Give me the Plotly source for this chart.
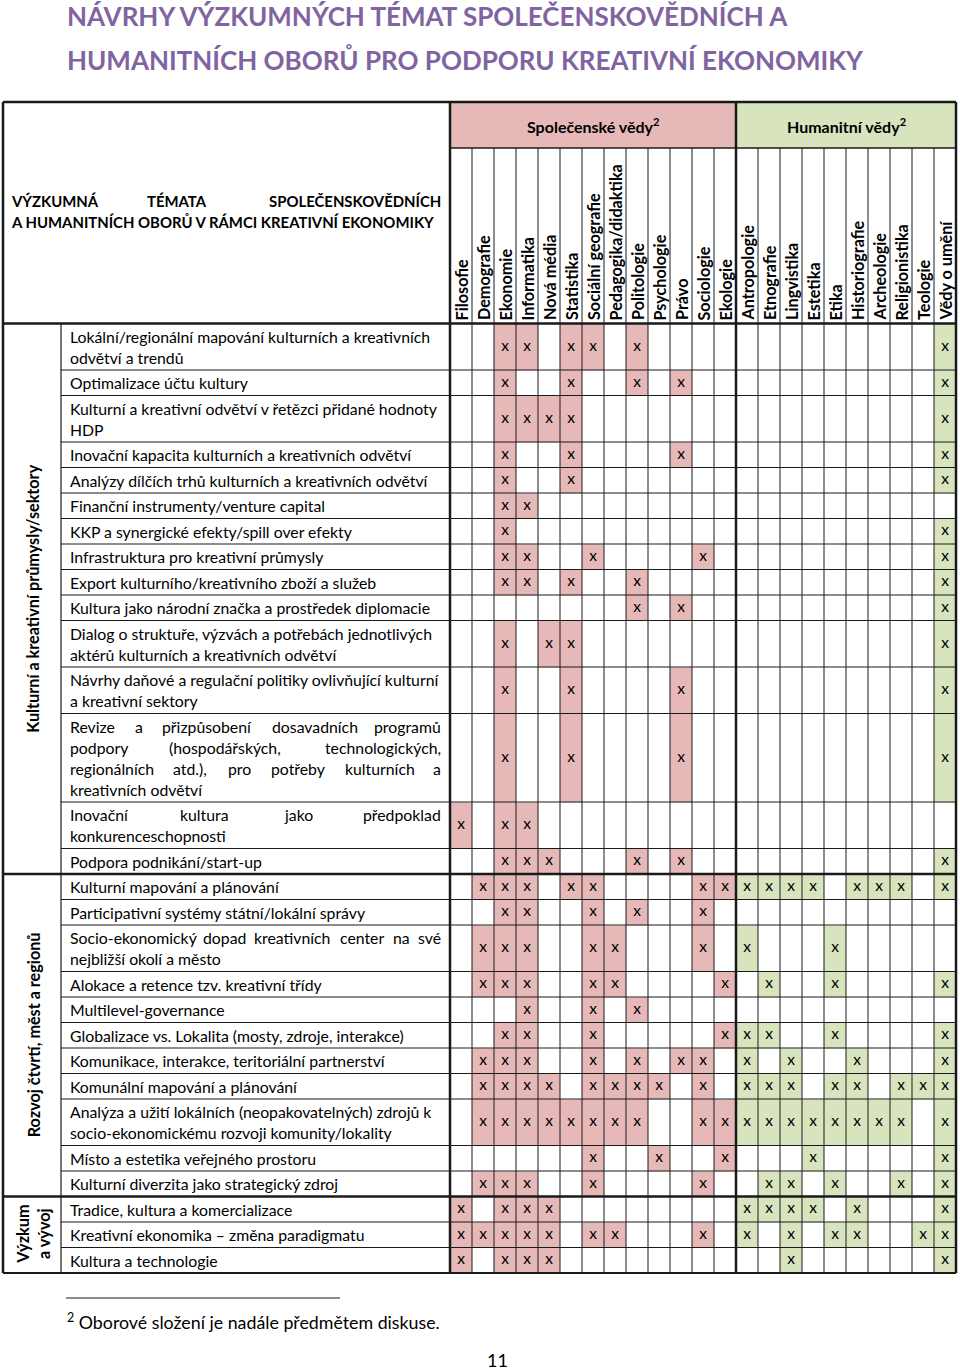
import plotly.graph_objects as go

# --- Data ---
obory_spol = ["Filosofie", "Demografie", "Ekonomie", "Informatika", "Nová média", "Statistika",
              "Sociální geografie", "Pedagogika/didaktika", "Politologie", "Psychologie", "Právo",
              "Sociologie", "Ekologie"]
obory_hum = ["Antropologie", "Etnografie", "Lingvistika", "Estetika", "Etika", "Historiografie",
             "Archeologie", "Religionistika", "Teologie", "Vědy o umění"]
obory = obory_spol + obory_hum

oblasti = ["Kulturní a kreativní průmysly/sektory", "Rozvoj čtvrtí, měst a regionů", "Výzkum<br>a vývoj"]
pocet_temat_v_oblasti = [15, 11, 3]

temata = [
    ["Lokální/regionální mapování kulturních a kreativních", "odvětví a trendů"],
    ["Optimalizace účtu kultury"],
    ["Kulturní a kreativní odvětví v řetězci přidané hodnoty", "HDP"],
    ["Inovační kapacita kulturních a kreativních odvětví"],
    ["Analýzy dílčích trhů kulturních a kreativních odvětví"],
    ["Finanční instrumenty/venture capital"],
    ["KKP a synergické efekty/spill over efekty"],
    ["Infrastruktura pro kreativní průmysly"],
    ["Export kulturního/kreativního zboží a služeb"],
    ["Kultura jako národní značka a prostředek diplomacie"],
    ["Dialog o struktuře, výzvách a potřebách jednotlivých", "aktérů kulturních a kreativních odvětví"],
    ["Návrhy daňové a regulační politiky ovlivňující kulturní", "a kreativní sektory"],
    ["Revize a přizpůsobení dosavadních programů", "podpory (hospodářských, technologických,",
     "regionálních atd.), pro potřeby kulturních a", "kreativních odvětví"],
    ["Inovační kultura jako předpoklad", "konkurenceschopnosti"],
    ["Podpora podnikání/start-up"],
    ["Kulturní mapování a plánování"],
    ["Participativní systémy státní/lokální správy"],
    ["Socio-ekonomický dopad kreativních center na své", "nejbližší okolí a město"],
    ["Alokace a retence tzv. kreativní třídy"],
    ["Multilevel-governance"],
    ["Globalizace vs. Lokalita (mosty, zdroje, interakce)"],
    ["Komunikace, interakce, teritoriální partnerství"],
    ["Komunální mapování a plánování"],
    ["Analýza a užití lokálních (neopakovatelných) zdrojů k", "socio-ekonomickému rozvoji komunity/lokality"],
    ["Místo a estetika veřejného prostoru"],
    ["Kulturní diverzita jako strategický zdroj"],
    ["Tradice, kultura a komercializace"],
    ["Kreativní ekonomika – změna paradigmatu"],
    ["Kultura a technologie"],
]

# cisla oboru (1 = Filosofie ... 23 = Vědy o umění) oznacena "x"
oznaceni = [
    [3, 4, 6, 7, 9, 23],
    [3, 6, 9, 11, 23],
    [3, 4, 5, 6, 23],
    [3, 6, 11, 23],
    [3, 6, 23],
    [3, 4],
    [3, 23],
    [3, 4, 7, 12, 23],
    [3, 4, 6, 9, 23],
    [9, 11, 23],
    [3, 5, 6, 23],
    [3, 6, 11, 23],
    [3, 6, 11, 23],
    [1, 3, 4],
    [3, 4, 5, 9, 11, 23],
    [2, 3, 4, 6, 7, 12, 13, 14, 15, 16, 17, 19, 20, 21, 23],
    [3, 4, 7, 9, 12],
    [2, 3, 4, 7, 8, 12, 14, 18],
    [2, 3, 4, 7, 8, 13, 15, 18, 23],
    [4, 7, 9],
    [3, 4, 7, 13, 14, 15, 18, 23],
    [2, 3, 4, 7, 9, 11, 12, 14, 16, 19, 23],
    [2, 3, 4, 5, 7, 8, 9, 10, 12, 14, 15, 16, 18, 19, 21, 22, 23],
    [2, 3, 4, 5, 6, 7, 8, 9, 12, 13, 14, 15, 16, 17, 18, 19, 20, 21, 23],
    [7, 10, 13, 17, 23],
    [2, 3, 4, 7, 12, 15, 16, 18, 21, 23],
    [1, 3, 4, 5, 14, 15, 16, 17, 19, 23],
    [1, 2, 3, 4, 5, 7, 8, 12, 14, 16, 18, 19, 22, 23],
    [1, 3, 4, 5, 16, 23],
]

nadpis = ["NÁVRHY VÝZKUMNÝCH TÉMAT SPOLEČENSKOVĚDNÍCH A",
          "HUMANITNÍCH OBORŮ PRO PODPORU KREATIVNÍ EKONOMIKY"]
hlavicka = ["VÝZKUMNÁ TÉMATA SPOLEČENSKOVĚDNÍCH", "A HUMANITNÍCH OBORŮ V RÁMCI KREATIVNÍ EKONOMIKY"]
skupiny = ["Společenské vědy<sup>2</sup>", "Humanitní vědy<sup>2</sup>"]
poznamka = "<sup>2</sup> Oborové složení je nadále předmětem diskuse."
strana = "11"

# --- Vzhled ---
FONT = "Lato"
RUZOVA = "#E6B9B8"
ZELENA = "#D7E4BD"
FIALOVA = "#8064A2"
CARA = "#1a1a1a"

LEFT, X_TEMA, X_OBORY = 3, 61, 450
SLOUPEC = 22
TOP, Y_PAS, Y_TELO = 102, 148, 323.5
RADEK_PAD, RADEK_LINE = 4.5, 21.0
TEXT_L, TEXT_R = 68, 443
VEL_TEMA = 15.8


def sirka(text, size):
    # hruby odhad sirky textu (Lato)
    w = 0
    for ch in text:
        if ch in "iljíI.,:;|!'":
            w += 0.25
        elif ch in "ftrřť()/-":
            w += 0.36
        elif ch in "mwMW":
            w += 0.8
        elif ch == " ":
            w += 0.25
        elif ch.isdigit():
            w += 0.55
        elif ch.isupper():
            w += 0.64
        else:
            w += 0.52
    return w * size


fig = go.Figure()
anot = []


def radek_textu(text, x0, x1, y, size, justify, bold=False):
    b0, b1 = ("<b>", "</b>") if bold else ("", "")
    f = dict(family=FONT, size=size, color="black")
    slova = text.split(" ")
    k = 1.06 if bold else 1.0
    w = [sirka(s, size * k) for s in slova]
    volno = (x1 - x0) - sum(w) - sirka(" ", size * k) * (len(slova) - 1)
    # zarovnani do bloku jen tam, kde je v radku znatelne volne misto
    if not justify or len(slova) < 2 or volno < 22:
        anot.append(dict(x=x0, y=y, text=b0 + text + b1, xanchor="left", yanchor="middle",
                         showarrow=False, font=f))
        return
    mezera = (x1 - x0 - sum(w)) / (len(slova) - 1)
    pos = x0
    for i, s in enumerate(slova):
        if i == 0:
            anot.append(dict(x=x0, y=y, text=b0 + s + b1, xanchor="left", yanchor="middle",
                             showarrow=False, font=f))
        elif i == len(slova) - 1:
            anot.append(dict(x=x1, y=y, text=b0 + s + b1, xanchor="right", yanchor="middle",
                             showarrow=False, font=f))
        else:
            anot.append(dict(x=pos + w[i] / 2, y=y, text=b0 + s + b1, xanchor="center", yanchor="middle",
                             showarrow=False, font=f))
        pos += w[i] + mezera


# radky tabulky
hrany_y = [Y_TELO]
for t in temata:
    hrany_y.append(hrany_y[-1] + RADEK_PAD + RADEK_LINE * len(t))
Y_KONEC = hrany_y[-1]
hrany_x = [X_OBORY + i * SLOUPEC for i in range(len(obory) + 1)]
X_PRAVO = hrany_x[-1]
stredy_x = [(hrany_x[i] + hrany_x[i + 1]) / 2 for i in range(len(obory))]
stredy_y = [(hrany_y[i] + hrany_y[i + 1]) / 2 for i in range(len(temata))]

# barevne bunky
n_spol = len(obory_spol)
z = []
for r, idx in enumerate(oznaceni):
    z.append([(1 if c <= n_spol else 2) if c in idx else None for c in range(1, len(obory) + 1)])
fig.add_trace(go.Heatmap(x=hrany_x, y=hrany_y, z=z, zmin=1, zmax=2, showscale=False,
                         colorscale=[[0, RUZOVA], [0.5, RUZOVA], [0.5, ZELENA], [1, ZELENA]],
                         hoverinfo="skip"))

# "x" znacky
xs, ys = [], []
for r, idx in enumerate(oznaceni):
    for c in idx:
        xs.append(stredy_x[c - 1])
        ys.append(stredy_y[r])
fig.add_trace(go.Scatter(x=xs, y=ys, mode="text", text=["x"] * len(xs),
                         textfont=dict(family=FONT, size=15.5, color="black"),
                         hoverinfo="skip", showlegend=False))

# pas se skupinami oboru
hr_sk = [X_OBORY, hrany_x[n_spol], X_PRAVO]
for i, (lab, barva) in enumerate(zip(skupiny, [RUZOVA, ZELENA])):
    fig.add_shape(type="rect", x0=hr_sk[i], x1=hr_sk[i + 1], y0=TOP, y1=Y_PAS,
                  fillcolor=barva, line_width=0, layer="below")
    anot.append(dict(x=(hr_sk[i] + hr_sk[i + 1]) / 2, y=(TOP + Y_PAS) / 2, text="<b>" + lab + "</b>",
                     showarrow=False, font=dict(family=FONT, size=16, color="black")))


# cary mrizky
def cara(x0, y0, x1, y1, w=1):
    fig.add_shape(type="line", x0=x0, y0=y0, x1=x1, y1=y1, line=dict(color=CARA, width=w))


for x in hrany_x[1:-1]:
    if x != hr_sk[1]:
        cara(x, Y_PAS, x, Y_KONEC, 1)
for y in hrany_y[1:-1]:
    cara(X_TEMA, y, X_PRAVO, y, 1)
cara(X_OBORY, Y_PAS, X_PRAVO, Y_PAS, 1.5)
cara(X_TEMA, Y_TELO, X_TEMA, Y_KONEC, 1.2)

# hranice oblasti
hr_obl = [0]
for n in pocet_temat_v_oblasti:
    hr_obl.append(hr_obl[-1] + n)
for k in hr_obl[1:-1]:
    cara(LEFT, hrany_y[k], X_PRAVO, hrany_y[k], 2.5)

# silne okraje
cara(LEFT, TOP, X_PRAVO, TOP, 2.5)
cara(LEFT, Y_TELO, X_PRAVO, Y_TELO, 2.5)
cara(LEFT, Y_KONEC, X_PRAVO, Y_KONEC, 2)
cara(LEFT, TOP, LEFT, Y_KONEC, 2.5)
cara(X_PRAVO, TOP, X_PRAVO, Y_KONEC, 2.5)
cara(X_OBORY, TOP, X_OBORY, Y_KONEC, 2.5)
cara(hr_sk[1], TOP, hr_sk[1], Y_KONEC, 2.5)

# nazvy oboru (svisle)
for x, o in zip(stredy_x, obory):
    anot.append(dict(x=x, y=Y_TELO - 1, text="<b>" + o + "</b>", textangle=-90,
                     xanchor="center", yanchor="bottom", showarrow=False,
                     font=dict(family=FONT, size=16.2, color="black")))

# texty temat
for r, radky in enumerate(temata):
    for i, t in enumerate(radky):
        y = hrany_y[r] + RADEK_PAD / 2 + RADEK_LINE * (i + 0.5)
        radek_textu(t, TEXT_L, TEXT_R, y, VEL_TEMA, justify=(i < len(radky) - 1))

# oblasti (svisle)
for k, o in enumerate(oblasti):
    y0, y1 = hrany_y[hr_obl[k]], hrany_y[hr_obl[k + 1]]
    anot.append(dict(x=(LEFT + X_TEMA) / 2 + 1, y=(y0 + y1) / 2, text="<b>" + o + "</b>", textangle=-90,
                     showarrow=False, align="center",
                     font=dict(family=FONT, size=16.2, color="black")))

# hlavicka vlevo
for i, t in enumerate(hlavicka):
    radek_textu(t, 9, 443, 201 + 21 * i, 14.9, justify=(i < len(hlavicka) - 1), bold=True)

# nadpis
for i, t in enumerate(nadpis):
    anot.append(dict(x=65, y=16 + 43 * i, text="<b>" + t + "</b>", xanchor="left", showarrow=False,
                     font=dict(family=FONT, size=26, color=FIALOVA)))

# poznamka pod carou
cara(66, 1298, 340, 1298, 1.2)
anot.append(dict(x=65, y=1321, text=poznamka, xanchor="left", showarrow=False,
                 font=dict(family=FONT, size=17.8, color="black")))
anot.append(dict(x=497, y=1360, text=strana, showarrow=False,
                 font=dict(family=FONT, size=18, color="black")))

fig.update_layout(
    width=960, height=1371,
    margin=dict(l=0, r=0, t=0, b=0),
    paper_bgcolor="white", plot_bgcolor="white",
    annotations=anot,
    showlegend=False,
)
fig.update_xaxes(range=[0, 960], visible=False, fixedrange=True)
fig.update_yaxes(range=[1371, 0], visible=False, fixedrange=True)

fig.write_html("out.html", config={"displayModeBar": False},
               post_script="document.body.style.margin='0';")
